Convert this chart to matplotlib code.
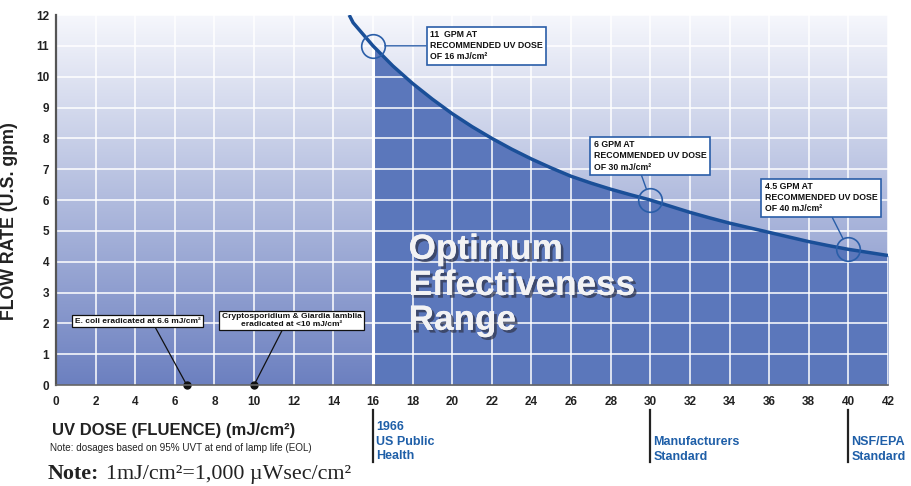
import matplotlib
matplotlib.use("Agg")
import matplotlib.pyplot as plt
import matplotlib.patheffects as pe
from matplotlib.transforms import blended_transform_factory
import numpy as np

plt.rcParams["font.family"] = ["Liberation Sans", "DejaVu Sans"]

# curve: UV dose (mJ/cm2) vs flow rate (gpm)
dose = [14.8, 15, 16, 17, 18, 19, 20, 21, 22, 23, 24, 25, 26, 27, 28, 29,
        30, 31, 32, 33, 34, 35, 36, 37, 38, 39, 40, 41, 42]
flow = [12.0, 11.75, 11.0, 10.35, 9.78, 9.27, 8.8, 8.38, 8.0, 7.65, 7.33,
        7.04, 6.77, 6.55, 6.35, 6.17, 6.0, 5.8, 5.6, 5.42, 5.25, 5.1, 4.95,
        4.8, 4.65, 4.52, 4.4, 4.3, 4.2]

# recommended dose callouts
rec_dose = [16, 30, 40]
rec_flow = [11, 6, 4.4]
rec_labels = ["11  GPM AT\nRECOMMENDED UV DOSE\nOF 16 mJ/cm²",
              "6 GPM AT\nRECOMMENDED UV DOSE\nOF 30 mJ/cm²",
              "4.5 GPM AT\nRECOMMENDED UV DOSE\nOF 40 mJ/cm²"]

# pathogen markers on the x axis
bug_dose = [6.6, 10]
bug_labels = ["E. coli eradicated at 6.6 mJ/cm²",
              "Cryptosporidium & Giardia lamblia\neradicated at <10 mJ/cm²"]

# standards below the axis
std_dose = [16, 30, 40]
std_labels = ["1966\nUS Public\nHealth", "Manufacturers\nStandard", "NSF/EPA\nStandard"]

x_ticks = list(range(0, 43, 2))
y_ticks = list(range(0, 13))

fig = plt.figure(figsize=(9.12, 4.86), dpi=100)
ax = fig.add_axes([56 / 912, 1 - 385 / 486, 832 / 912, 370 / 486])
ax.set_xlim(0, 42)
ax.set_ylim(0, 12)

# background gradient, light at top
top = np.array([246, 247, 252]) / 255
bot = np.array([108, 128, 192]) / 255
t = np.linspace(0, 1, 256)[:, None]
grad = (top[None, :] * (1 - t) + bot[None, :] * t)[:, None, :]
ax.imshow(grad, extent=[0, 42, 0, 12], aspect="auto", origin="upper", zorder=0)

# optimum range under curve
d = np.array(dose)
f = np.array(flow)
m = d >= 16
ax.fill_between(d[m], 0, f[m], color="#5b77bb", zorder=1, lw=0)

for x in x_ticks:
    ax.axvline(x, color="white", lw=1.1, zorder=2)
for y in y_ticks[1:]:
    ax.axhline(y, color="white", lw=1.1, zorder=2)
ax.plot([16, 16], [0, 11], color="white", lw=2.2, zorder=2)

ax.plot(dose, flow, color="#1a4f98", lw=2.5, zorder=4, solid_capstyle="butt")

blue = "#2a5ea8"
ax.plot(rec_dose, rec_flow, "o", ms=17, mfc="none", mec=blue, mew=1.2, zorder=5)

box_pos = [(21.73, 11.0), (30.0, 7.43), (38.63, 6.07)]
rel = [(0, 0.5), (0.41, 0), (0.58, 0)]
for (bx, by), lab, xd, yf, rp in zip(box_pos, rec_labels, rec_dose, rec_flow, rel):
    ax.annotate(lab, xy=(xd, yf), xytext=(bx, by), ha="center", va="center",
                fontsize=6.3, fontweight="bold", color="#111", linespacing=1.3,
                multialignment="left",
                bbox=dict(boxstyle="square,pad=0.4", fc="white", ec=blue, lw=1.2),
                arrowprops=dict(arrowstyle="-", color=blue, lw=1.0, relpos=rp,
                                shrinkA=0, shrinkB=8.5),
                zorder=6)

bug_pos = [(4.12, 2.06), (11.9, 2.09)]
bug_rel = [(0.63, 0), (0.44, 0)]
for (bx, by), lab, xd, rp in zip(bug_pos, bug_labels, bug_dose, bug_rel):
    ax.annotate(lab, xy=(xd, 0), xytext=(bx, by), ha="center", va="center",
                fontsize=6.0, fontweight="bold", color="#111", linespacing=1.15,
                multialignment="center",
                bbox=dict(boxstyle="square,pad=0.3", fc="white", ec="#111", lw=0.9),
                arrowprops=dict(arrowstyle="-", color="#111", lw=0.9, relpos=rp,
                                shrinkA=0, shrinkB=0),
                zorder=6)
ax.plot(bug_dose, [0] * len(bug_dose), "o", color="#111", ms=5, clip_on=False, zorder=7)

shadow = [pe.withSimplePatchShadow(offset=(2, -2), shadow_rgbFace="#30344a", alpha=0.7),
          pe.Normal()]
for word, yb in zip(["Optimum", "Effectiveness", "Range"], [4.09, 2.92, 1.79]):
    ax.text(17.8, yb, word, fontsize=25.3, fontweight="bold", color="#f2f2f4",
            va="baseline", ha="left", path_effects=shadow, zorder=5)

ax.set_xticks(x_ticks)
ax.set_yticks(y_ticks)
ax.tick_params(length=0, labelsize=8.5, colors="#222")
ax.tick_params(axis="x", pad=8)
ax.tick_params(axis="y", pad=5)
for lbl in ax.get_xticklabels() + ax.get_yticklabels():
    lbl.set_fontweight("bold")
for s in ["top", "right"]:
    ax.spines[s].set_visible(False)
ax.spines["left"].set_color("#555")
ax.spines["left"].set_linewidth(1.6)
ax.spines["bottom"].set_color("#666")
ax.spines["bottom"].set_linewidth(1.2)
ax.spines["left"].set_zorder(8)
ax.spines["bottom"].set_zorder(8)

ax.set_ylabel("FLOW RATE (U.S. gpm)", fontsize=12.8, fontweight="bold", color="#222")
ax.yaxis.set_label_coords(-0.0457, 0.443)

fig.text(52 / 912, 1 - 430 / 486, "UV DOSE (FLUENCE) (mJ/cm²)", fontsize=12,
         fontweight="bold", color="#222", va="center", ha="left")
fig.text(50 / 912, 1 - 448 / 486, "Note: dosages based on 95% UVT at end of lamp life (EOL)",
         fontsize=7.1, color="#222", va="center", ha="left")
fig.text(48 / 912, 1 - 474 / 486, "Note:", fontsize=15.8, fontweight="bold",
         family="Liberation Serif", color="#222", va="center", ha="left")
fig.text(106 / 912, 1 - 474 / 486, "1mJ/cm²=1,000 µWsec/cm²", fontsize=15.8,
         family="Liberation Serif", color="#222", va="center", ha="left")

tr = blended_transform_factory(ax.transData, fig.transFigure)
std_top = [1 - 421 / 486, 1 - 436 / 486, 1 - 436 / 486]
for xd, lab, yt in zip(std_dose, std_labels, std_top):
    ax.plot([xd, xd], [1 - 410 / 486, 1 - 462 / 486], color="#222", lw=1.6,
            transform=tr, clip_on=False)
    ax.text(xd + 0.15, yt, lab, transform=tr, fontsize=9, fontweight="bold",
            color="#1f5fa8", va="top", ha="left", linespacing=1.3)

fig.savefig("out.png", dpi=100)
